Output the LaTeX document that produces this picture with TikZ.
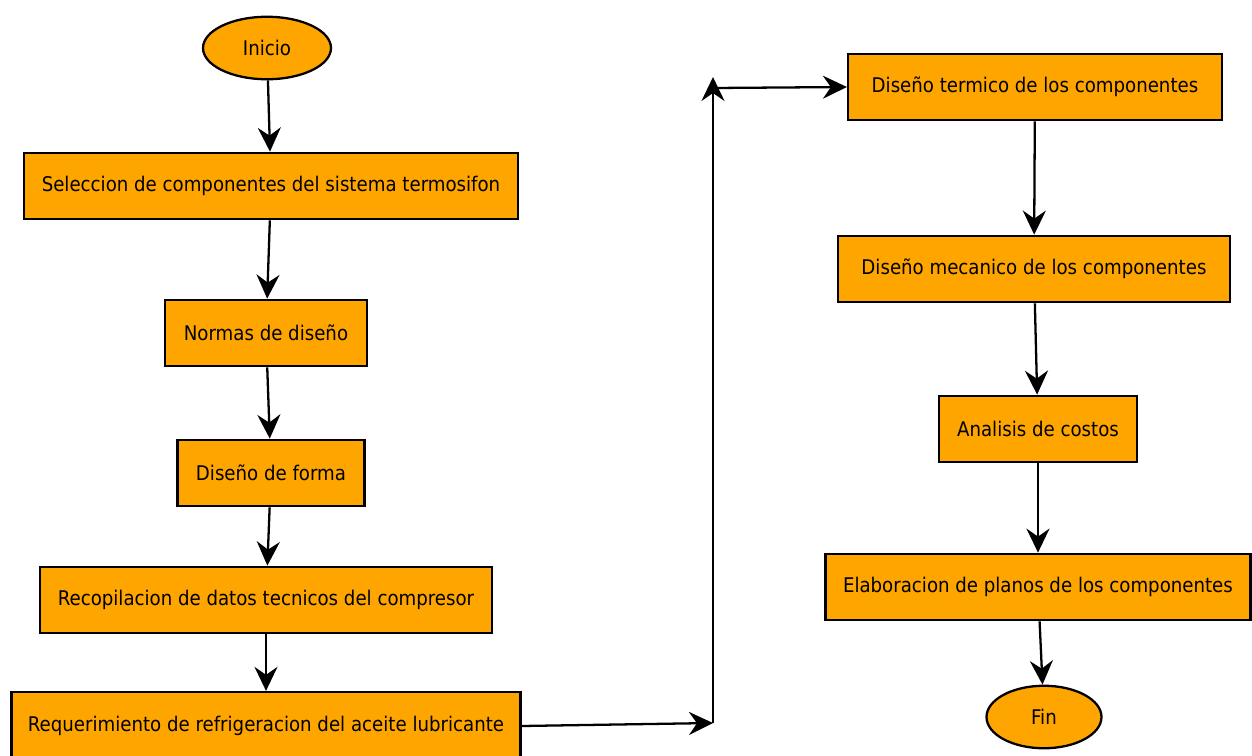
\documentclass[tikz,border=0pt]{standalone}
\usepackage{fontspec}
\setmainfont{DejaVu Sans Condensed}
\usetikzlibrary{shapes.geometric,arrows.meta}
\definecolor{naranja}{HTML}{FFA500}
\begin{document}
\begin{tikzpicture}[x=0.02cm, y=-0.02cm, every node/.style={draw,line width=1.3pt,fill=naranja,align=center,inner sep=0pt,font=\fontsize{11.5}{13}\selectfont}, caja/.style={rectangle,minimum height=1.33cm}, terminal/.style={ellipse,minimum width=2.4cm,minimum height=1.25cm}, flecha/.style={line width=1.3pt,-{Stealth[length=0.48cm,width=0.46cm,inset=0.16cm]}}]
	\useasboundingbox (0,0) rectangle (1252,755);
	\node[terminal, minimum width=2.56cm] (ini) at (267,48) {Inicio};
	\node[caja, minimum width=9.88cm] (sel) at (271,186) {Seleccion de componentes del sistema termosifon};
	\node[caja, minimum width=4.04cm] (nor) at (266,333) {Normas de diseño};
	\node[caja, minimum width=3.74cm] (for) at (271,473) {Diseño de forma};
	\node[caja, minimum width=9.04cm] (rec) at (266,600) {Recopilacion de datos tecnicos del compresor};
	\node[caja, minimum width=10.18cm, minimum height=1.36cm] (req) at (266,726) {Requerimiento de refrigeracion del aceite lubricante};
	\node[caja, minimum width=7.48cm] (ter) at (1035,87) {Diseño termico de los componentes};
	\node[caja, minimum width=7.84cm] (mec) at (1034,269) {Diseño mecanico de los componentes};
	\node[caja, minimum width=3.96cm] (ana) at (1038,429) {Analisis de costos};
	\node[caja, minimum width=8.5cm] (ela) at (1038,587) {Elaboracion de planos de los componentes};
	\node[terminal, minimum width=2.3cm] (fin) at (1044,717) {Fin};
	\coordinate (abajo) at (713,723);
	\coordinate (arriba) at (713,77);
	\coordinate (codo) at (713,88);
	\draw[flecha] (ini) -- (sel);
	\draw[flecha] (sel) -- (nor);
	\draw[flecha] (nor) -- (for);
	\draw[flecha] (for) -- (rec);
	\draw[flecha] (rec) -- (req);
	\draw[flecha] (req.east) -- (abajo);
	\draw[flecha] (abajo) -- (arriba);
	\draw[flecha] (codo) -- (ter.west);
	\draw[flecha] (ter) -- (mec);
	\draw[flecha] (mec) -- (ana);
	\draw[flecha] (ana) -- (ela);
	\draw[flecha] (ela) -- (fin);
\end{tikzpicture}
\end{document}
